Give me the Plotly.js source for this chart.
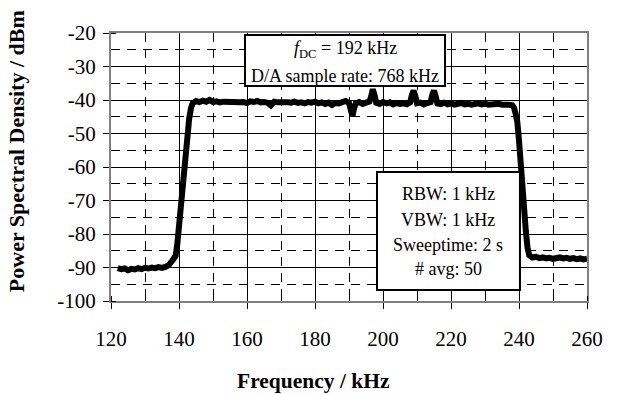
<!DOCTYPE html>
<html>
<head>
<meta charset="utf-8">
<script src="https://cdn.plot.ly/plotly-3.0.1.min.js"></script>
<style>
  html, body { margin: 0; padding: 0; background: #ffffff; }
  #chart { width: 617px; height: 395px; }
</style>
</head>
<body>
<div id="chart"></div>
<script>
// Frequency (kHz)
const freqKHz = [
  122, 123, 124, 125, 126, 127, 128, 129, 130, 131, 132, 133, 134, 135, 136, 137, 138, 139,
  139.5, 140, 140.5, 141, 141.5, 142, 142.5, 143, 143.5, 144,
  145, 146, 147, 148, 149, 150, 151, 152, 153, 154, 155, 156, 157, 158, 159, 160,
  161, 162, 163, 164, 165, 166, 167, 168, 169, 170, 171, 172, 173, 174, 175, 176, 177, 178, 179, 180,
  181, 182, 183, 184, 185, 186, 187, 188, 189, 190, 190.5, 191, 191.5, 192, 193, 194, 195, 196,
  196.5, 197, 197.5, 198, 199, 200, 201, 202, 203, 204, 205, 206, 207, 208, 208.5, 209, 209.5, 210,
  211, 212, 213, 214, 214.5, 215, 215.5, 216, 217, 218, 219, 220, 221, 222, 223, 224, 225, 226,
  227, 228, 229, 230, 231, 232, 233, 234, 235, 236, 237, 238, 238.5, 239, 239.5, 240, 240.5, 241,
  241.5, 242, 242.5, 243, 244, 245, 246, 247, 248, 249, 250, 251, 252, 253, 254, 255, 256, 257,
  258, 259, 260
];
// Power spectral density (dBm)
const psdDBm = [
  -90.2, -90.5, -90.3, -90.8, -90.4, -90.6, -90.2, -90.5, -90.1, -90.3, -90.0, -90.2, -89.9, -90.1, -89.8, -89.3, -88.0, -86.5,
  -83.0, -77.0, -71.0, -65.0, -60.0, -55.0, -50.0, -45.5, -42.5, -41.0,
  -40.3, -40.6, -40.2, -40.5, -40.0, -40.6, -40.4, -40.7, -40.5, -40.6, -40.4, -40.8, -40.5, -40.7, -40.6, -40.9,
  -40.4, -40.6, -40.3, -40.7, -40.6, -40.8, -41.6, -40.5, -40.7, -40.6, -40.9, -40.7, -40.8, -40.5, -40.9, -40.7, -41.0, -40.6, -40.8, -40.5,
  -41.0, -40.7, -41.2, -40.8, -41.5, -40.9, -41.0, -40.8, -40.3, -40.9, -42.5, -44.8, -42.5, -41.0, -40.6, -41.2, -40.8, -40.5,
  -39.0, -36.8, -38.5, -40.8, -41.2, -40.6, -41.0, -40.7, -41.3, -40.9, -41.2, -41.0, -41.3, -40.7, -38.5, -37.2, -38.8, -41.0,
  -40.8, -41.3, -40.9, -40.6, -38.5, -37.2, -39.0, -41.0, -41.2, -40.8, -41.3, -41.0, -41.4, -41.1, -40.9, -41.3, -41.1, -41.4,
  -41.2, -41.0, -41.3, -41.1, -41.4, -41.2, -41.3, -41.1, -41.4, -41.2, -41.4, -41.6, -42.2, -44.0, -46.5, -52.0, -60.0, -66.0,
  -72.0, -79.0, -84.0, -86.3, -87.0, -86.8, -87.2, -87.0, -87.3, -87.1, -87.4, -87.2, -87.0, -87.3, -87.1, -87.4, -87.2, -87.5,
  -87.3, -87.6, -87.4
];

// Axis ticks
const xTickVals = [120, 140, 160, 180, 200, 220, 240, 260];
const xTickLabels = ['120', '140', '160', '180', '200', '220', '240', '260'];
const yTickVals = [-20, -30, -40, -50, -60, -70, -80, -90, -100];
const yTickLabels = ['-20', '-30', '-40', '-50', '-60', '-70', '-80', '-90', '-100'];

// Texts
const xTitle = 'Frequency / kHz';
const yTitle = 'Power Spectral Density / dBm';
const box1Lines = ['<i>f</i><sub>DC</sub> = 192 kHz', 'D/A sample rate: 768 kHz'];
const box2Lines = ['RBW: 1 kHz', 'VBW: 1 kHz', 'Sweeptime: 2 s', '# avg: 50'];

const serif = 'Liberation Serif, Times New Roman, serif';

const trace = {
  x: freqKHz,
  y: psdDBm,
  type: 'scatter',
  mode: 'lines',
  line: { color: '#000000', width: 6, shape: 'linear' },
  hoverinfo: 'skip'
};

const box1Y = [0.937, 0.840];
const box2Y = [0.398, 0.302, 0.209, 0.121];

const annotations = [];
box1Lines.forEach((t, i) => annotations.push({
  xref: 'paper', yref: 'paper', x: 0.4916, y: box1Y[i], xanchor: 'center', yanchor: 'middle',
  text: t, showarrow: false, font: { family: serif, size: 18, color: '#000' }
}));
box2Lines.forEach((t, i) => annotations.push({
  xref: 'paper', yref: 'paper', x: 0.708, y: box2Y[i], xanchor: 'center', yanchor: 'middle',
  text: t, showarrow: false, font: { family: serif, size: 18, color: '#000' }
}));
annotations.push({
  xref: 'paper', yref: 'paper', x: 0.425, y: -0.298, xanchor: 'center', yanchor: 'middle',
  text: '<b>' + xTitle + '</b>', showarrow: false, font: { family: serif, size: 21.5, color: '#000' }
});
annotations.push({
  xref: 'paper', yref: 'paper', x: -0.197, y: 0.56, xanchor: 'center', yanchor: 'middle',
  text: '<b>' + yTitle + '</b>', textangle: -90, showarrow: false,
  font: { family: serif, size: 22, color: '#000' }
});

const layout = {
  width: 617,
  height: 395,
  margin: { l: 111, r: 30, t: 33, b: 94, pad: 0 },
  paper_bgcolor: '#ffffff',
  plot_bgcolor: '#ffffff',
  showlegend: false,
  font: { family: serif, size: 21, color: '#000' },
  xaxis: {
    range: [120, 260],
    tickmode: 'array', tickvals: xTickVals, ticktext: xTickLabels,
    ticks: 'outside', ticklen: 6, tickwidth: 1, tickcolor: '#000',
    ticklabelstandoff: 12,
    showgrid: true, gridcolor: '#000', gridwidth: 1,
    minor: { dtick: 10, showgrid: true, gridcolor: '#000', gridwidth: 1, griddash: '9px,7px',
             ticks: 'inside', ticklen: 5, tickcolor: '#000' },
    showline: true, linecolor: '#808080', linewidth: 2, mirror: true,
    zeroline: false,
    tickfont: { family: serif, size: 21, color: '#000' },
    fixedrange: true
  },
  yaxis: {
    range: [-100, -20],
    tickmode: 'array', tickvals: yTickVals, ticktext: yTickLabels,
    ticks: 'outside', ticklen: 6, tickwidth: 1, tickcolor: '#000',
    ticklabelstandoff: 3,
    showgrid: true, gridcolor: '#000', gridwidth: 1,
    minor: { dtick: 5, showgrid: true, gridcolor: '#000', gridwidth: 1, griddash: '9px,7px',
             ticks: 'inside', ticklen: 5, tickcolor: '#000' },
    showline: true, linecolor: '#808080', linewidth: 2, mirror: true,
    zeroline: false,
    tickfont: { family: serif, size: 21, color: '#000' },
    fixedrange: true
  },
  shapes: [
    { type: 'rect', xref: 'paper', yref: 'paper', x0: 0.2815, x1: 0.7017, y0: 0.802, y1: 0.9925,
      line: { color: '#000', width: 2 }, fillcolor: '#ffffff', layer: 'above' },
    { type: 'rect', xref: 'paper', yref: 'paper', x0: 0.5588, x1: 0.8592, y0: 0.041, y1: 0.4813,
      line: { color: '#000', width: 2 }, fillcolor: '#ffffff', layer: 'above' }
  ],
  annotations: annotations
};

Plotly.newPlot('chart', [trace], layout, { staticPlot: true, displayModeBar: false });
</script>
</body>
</html>
